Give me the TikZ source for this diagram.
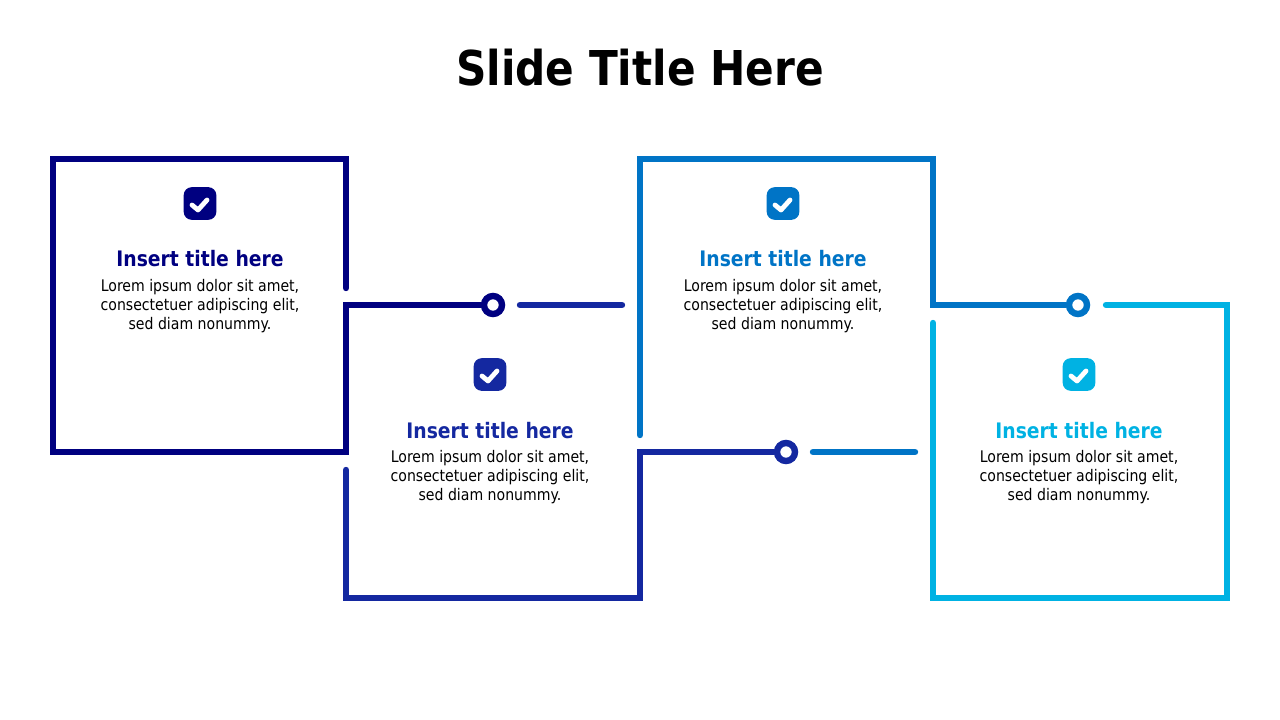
\documentclass[tikz,border=0pt]{standalone}
\usepackage{fontspec}
\setmainfont{DejaVu Sans}[FakeStretch=0.88]
\definecolor{navyA}{HTML}{000080}
\definecolor{blueB}{HTML}{1428A0}
\definecolor{blueC}{HTML}{0074C6}
\definecolor{cyanD}{HTML}{00B2E3}
\tikzset{
  frame/.style={line width=4.8pt, line cap=round, line join=miter, draw=#1},
  dot/.style={circle, draw=#1, fill=white, line width=4.8pt, minimum size=13.5pt, inner sep=0pt},
  badge/.style={fill=#1, rounded corners=6pt, minimum size=24.5pt, inner sep=0pt},
  tick/.style={draw=white, line width=3.6pt, line cap=round, line join=round},
  cardtitle/.style={font=\bfseries\fontsize{16}{19}\selectfont, text=#1, anchor=base, inner sep=0pt},
  cardtext/.style={font=\fontsize{12}{14.4}\selectfont, align=center, anchor=north, inner sep=0pt}
}
\begin{document}
\begin{tikzpicture}[x=0.75pt,y=-0.75pt]
  \useasboundingbox (0,0) rectangle (1280,720);
  \node[font=\bfseries\fontsize{36}{43}\selectfont, anchor=base, inner sep=0pt] (title) at (640,86) {Slide Title Here};

  % corners of the frames
  \draw
    (346,288) coordinate (a0)
    (346,159) coordinate (a1)
    (53,159)  coordinate (a2)
    (53,452)  coordinate (a3)
    (346,452) coordinate (a4)
    (346,305) coordinate (a5)
    (520,305) coordinate (b0)
    (622,305) coordinate (b1)
    (346,470) coordinate (b2)
    (346,598) coordinate (b3)
    (640,598) coordinate (b4)
    (640,452) coordinate (b5)
    (813,452) coordinate (c0)
    (915,452) coordinate (c1)
    (640,435) coordinate (c2)
    (640,159) coordinate (c3)
    (933,159) coordinate (c4)
    (933,305) coordinate (c5)
    (1106,305) coordinate (d0)
    (1227,305) coordinate (d1)
    (1227,598) coordinate (d2)
    (933,598)  coordinate (d3)
    (933,323)  coordinate (d4);

  % ring ends
  \node[dot=navyA] (ra) at (493,305) {};
  \node[dot=blueB] (rb) at (786,452) {};
  \node[dot=blueC] (rc) at (1078,305) {};

  \draw[frame=navyA] (a0) -- (a1) -- (a2) -- (a3) -- (a4) -- (a5) -- (ra);
  \draw[frame=blueB] (b0) -- (b1);
  \draw[frame=blueB] (b2) -- (b3) -- (b4) -- (b5) -- (rb);
  \draw[frame=blueC] (c0) -- (c1);
  \draw[frame=blueC] (c2) -- (c3) -- (c4) -- (c5) -- (rc);
  \draw[frame=cyanD] (d0) -- (d1) -- (d2) -- (d3) -- (d4);

  % cards
  \foreach \n/\x/\y/\c in {1/200/0/navyA, 2/490/171/blueB, 3/783/0/blueC, 4/1079/171/cyanD} {
    \node[badge=\c] (icon\n) at (\x,203.5+\y) {};
    \draw[tick] (\x-8,205+\y) -- (\x-2,210+\y) -- (\x+7,200+\y);
    \node[cardtitle=\c] (head\n) at (\x,267+\y) {Insert title here};
    \node[cardtext] (body\n) at (\x,279+\y) {Lorem ipsum dolor sit amet,\\consectetuer adipiscing elit,\\sed diam nonummy.};
  }
\end{tikzpicture}
\end{document}
